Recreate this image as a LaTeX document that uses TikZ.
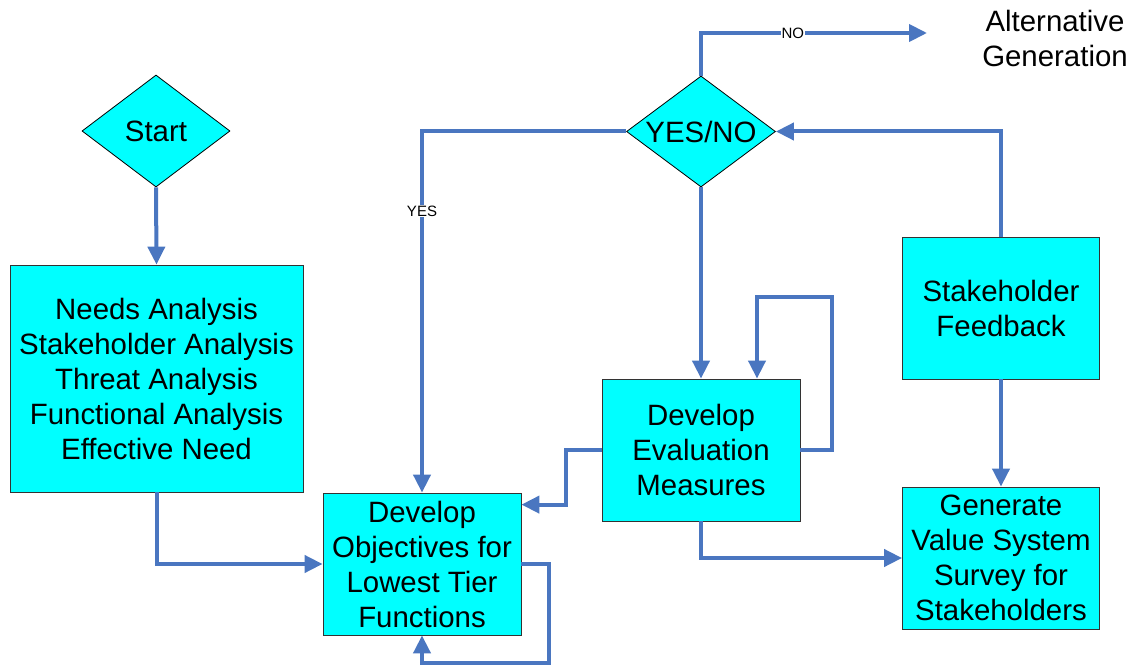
\documentclass[tikz,border=0pt]{standalone}
\usepackage{fontspec}
\setmainfont{Liberation Sans}
\usetikzlibrary{shapes.geometric,arrows.meta}
\definecolor{conblue}{HTML}{4A76C0}
\definecolor{boxcyan}{HTML}{00FFFF}
\tikzset{
  box/.style={draw=black!80, line width=0.8pt, fill=boxcyan, inner sep=0pt, align=center,
    font=\fontsize{29.4}{35}\selectfont},
  dia/.style={draw=black, line width=0.8pt, fill=boxcyan, shape=diamond, inner sep=0pt},
  conn/.style={draw=conblue, line width=4pt, -{Triangle[length=18pt,width=17pt]}},
  lbl/.style={fill=white, inner sep=1pt, font=\fontsize{15}{17}\selectfont},
  bigtext/.style={font=\fontsize{29.4}{35}\selectfont, align=center}
}
\begin{document}
\begin{tikzpicture}[x=1pt,y=-1pt]
\useasboundingbox (0,0) rectangle (1133,666);
% nodes
\node[dia, minimum width=148pt, minimum height=112pt, label={[bigtext]center:Start}] (start) at (156,131) {};
\node[dia, minimum width=149pt, minimum height=111pt, label={[bigtext]center:YES/NO}] (yn) at (701,131.5) {};
\node[box, minimum width=293pt, minimum height=227pt] (needs) at (156.5,378.5)
  {Needs Analysis\\Stakeholder Analysis\\Threat Analysis\\Functional Analysis\\Effective Need};
\node[box, minimum width=198pt, minimum height=142pt] (obj) at (422,564)
  {Develop\\Objectives for\\Lowest Tier\\Functions};
\node[box, minimum width=198pt, minimum height=142pt] (eval) at (701,450)
  {Develop\\Evaluation\\Measures};
\node[box, minimum width=197pt, minimum height=142pt] (fb) at (1001,308)
  {Stakeholder\\Feedback};
\node[bigtext] (alt) at (1055,38) {Alternative\\Generation};
\node[box, minimum width=197pt, minimum height=142pt] (gen) at (1001,558)
  {Generate\\Value System\\Survey for\\Stakeholders};
\coordinate (noend) at (927,33);
% connectors
\draw[conn] (start.south) -- (needs.north);
\draw[conn] (needs.south) |- (obj.west);
\draw[conn] (yn.west) -| (obj.north) node[lbl, pos=0.61] {YES};
\draw[conn] (yn.north) |- (noend) node[lbl, pos=0.703] {NO};
\draw[conn] (yn.south) -- (eval.north);
\draw[conn] (eval.east) -| (832,297) -| ([xshift=56pt]eval.north);
\draw[conn] (eval.west) -- (566,450) |- ([yshift=-12pt]obj.north east);
\draw[conn] (obj.east) -- (549,564) -- (549,663) -| (obj.south);
\draw[conn] (eval.south) |- (gen.west);
\draw[conn] (fb.north) |- (yn.east);
\draw[conn] (fb.south) -- (gen.north);
\end{tikzpicture}
\end{document}
